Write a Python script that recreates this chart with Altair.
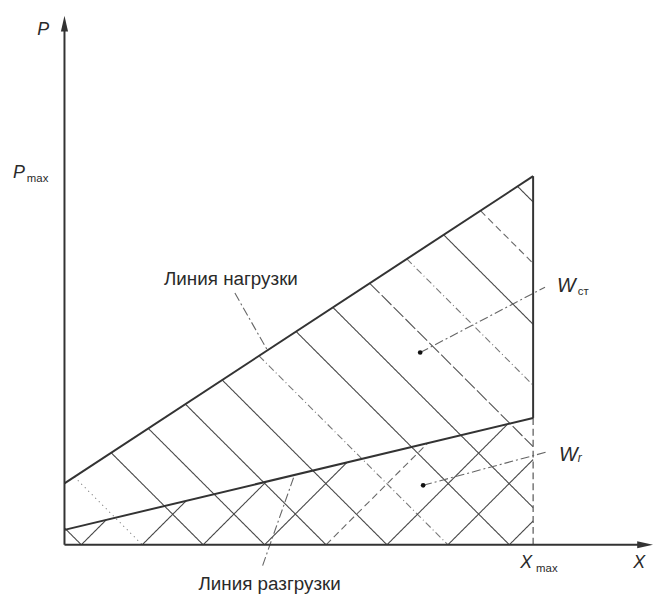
import altair as alt
import pandas as pd

# ---------------- values ----------------
# units: pixels measured from the origin (X to the right, P upwards)
x_axis_len = 594          # tip of the X arrow
p_axis_len = 534          # tip of the P arrow
x_max = 473               # X_max position
load_p = [62, 372]        # loading line: P at X=0 and at X=X_max
unload_p = [15, 128]      # unloading line: P at X=0 and at X=X_max

# hatch lines "\" (whole area under loading line), given by their X-axis intercept
hatch_down = [17, 78.5, 140, 202, 264, 325.5, 387, 449, 510.5, 572, 634, 695.5, 757, 819]
hatch_down_style = ["solid", "dotted", "solid", "solid", "solid", "solid", "dashdot",
                    "solid", "solid", "longdash", "dashdot", "solid", "dashed", "solid"]
# hatch lines "/" (area under unloading line)
hatch_up = [17, 78.5, 140, 202, 264, 325.5, 387, 449]
hatch_up_style = ["solid", "solid", "solid", "solid", "dashed", "solid", "solid", "solid"]

# leader lines
leader_x0 = [172, 200, 359, 362]
leader_y0 = [254, -21, 194, 60]
leader_x1 = [205, 232, 485, 488]
leader_y1 = [196, 70, 260, 94]
dot_x = [359, 362]
dot_y = [194, 60]

# labels
lab_text = ["P", "P", "max", "X", "X", "max", "W", "ст", "W", "r",
            "Линия нагрузки", "Линия разгрузки"]
lab_x = [-21.5, -52, -38, 580, 466, 476, 497, 518, 499, 518, 168, 207]
lab_y = [514, 370, 366, -23, -23, -27, 255, 252, 85, 84, 262, -46]
lab_size = [18, 18, 11.5, 18, 18, 11.5, 20, 11.5, 20, 12, 19, 19]
lab_align = ["center", "left", "left", "center", "center", "left", "left", "left",
             "left", "left", "center", "center"]
lab_italic = [True, True, False, True, True, False, True, False, True, True, False, False]

# ---------------- geometry helpers (clipping of hatch lines) ----------------
ks_load = (load_p[1] - load_p[0]) / x_max
ks_unl = (unload_p[1] - unload_p[0]) / x_max

rows = []
for c, st in zip(hatch_down, hatch_down_style):
    if c <= load_p[0]:
        xa, ya = 0, c
    else:
        xa = (c - load_p[0]) / (1 + ks_load)
        ya = c - xa
    if c <= x_max:
        xb, yb = c, 0
    else:
        xb, yb = x_max, c - x_max
    rows.append(dict(x=xa, y=ya, x2=xb, y2=yb, style=st))
for c, st in zip(hatch_up, hatch_up_style):
    xb = (c + unload_p[0]) / (1 - ks_unl)
    if xb > x_max:
        xb = x_max
    yb = xb - c
    rows.append(dict(x=c, y=0, x2=xb, y2=yb, style=st))
hatch_df = pd.DataFrame(rows)

main_df = pd.DataFrame(dict(
    x=[0, 0, x_max, 0, 0],
    y=[load_p[0], unload_p[0], unload_p[1], 0, 0],
    x2=[x_max, x_max, x_max, 0, x_axis_len - 8],
    y2=[load_p[1], unload_p[1], load_p[1], p_axis_len - 8, 0],
))
edge_df = pd.DataFrame(dict(x=[x_max], y=[0], x2=[x_max], y2=[unload_p[1]]))
lead_df = pd.DataFrame(dict(x=leader_x0, y=leader_y0, x2=leader_x1, y2=leader_y1))
dot_df = pd.DataFrame(dict(x=dot_x, y=dot_y))
arrow_up_df = pd.DataFrame(dict(x=[0], y=[p_axis_len - 8]))
arrow_rt_df = pd.DataFrame(dict(x=[x_axis_len - 8], y=[0]))

W, H = 652, 592
xs = alt.Scale(domain=[-57, -57 + W], nice=False, zero=False)
ys = alt.Scale(domain=[547 - 8 - H, 547 - 8], nice=False, zero=False)


def X():
    return alt.X("x:Q", scale=xs, axis=None)


def Y():
    return alt.Y("y:Q", scale=ys, axis=None)


dash_scale = alt.Scale(domain=["solid", "dotted", "dashdot", "dashed", "longdash"],
                       range=[[1, 0], [1, 4], [7, 3, 1, 3], [7, 4], [14, 3]])
col_scale = alt.Scale(domain=["solid", "dotted", "dashdot", "dashed", "longdash"],
                      range=["#474747", "#777777", "#777777", "#666666", "#555555"])

hatch = alt.Chart(hatch_df).mark_rule(strokeWidth=1.1).encode(
    x=X(), y=Y(), x2="x2:Q", y2="y2:Q",
    strokeDash=alt.StrokeDash("style:N", scale=dash_scale, legend=None),
    color=alt.Color("style:N", scale=col_scale, legend=None),
)
main = alt.Chart(main_df).mark_rule(strokeWidth=2, color="#333333").encode(
    x=X(), y=Y(), x2="x2:Q", y2="y2:Q")
edge = alt.Chart(edge_df).mark_rule(strokeWidth=1.2, color="#555555",
                                    strokeDash=[7, 4]).encode(
    x=X(), y=Y(), x2="x2:Q", y2="y2:Q")
leads = alt.Chart(lead_df).mark_rule(strokeWidth=1.1, color="#666666",
                                     strokeDash=[9, 3, 2, 3]).encode(
    x=X(), y=Y(), x2="x2:Q", y2="y2:Q")
dots = alt.Chart(dot_df).mark_point(filled=True, size=22, color="#111111",
                                    opacity=1, shape="circle").encode(x=X(), y=Y())
arr_up = alt.Chart(arrow_up_df).mark_point(
    filled=True, size=256, color="#333333", opacity=1,
    shape="M0,-1L0.45,1L-0.45,1Z").encode(x=X(), y=Y())
arr_rt = alt.Chart(arrow_rt_df).mark_point(
    filled=True, size=256, color="#333333", opacity=1,
    shape="M1,0L-1,-0.45L-1,0.45Z").encode(x=X(), y=Y())

layers = [hatch, edge, leads, main, dots, arr_up, arr_rt]
for i in range(len(lab_text)):
    one = pd.DataFrame(dict(label=[lab_text[i]], x=[lab_x[i]], y=[lab_y[i]]))
    kw = dict(align=lab_align[i], baseline="alphabetic", font="Liberation Sans",
              color="#2a2a2a", fontSize=lab_size[i])
    if lab_italic[i]:
        kw["fontStyle"] = "italic"
    layers.append(alt.Chart(one).mark_text(**kw).encode(
        x=X(), y=Y(), text="label:N"))

chart = alt.layer(*layers).properties(
    width=W, height=H, padding=0,
    autosize=alt.AutoSizeParams(type="none"),
    background="white",
).configure_view(stroke=None)

chart.save("out.html", embed_options={"renderer": "svg", "actions": False})
